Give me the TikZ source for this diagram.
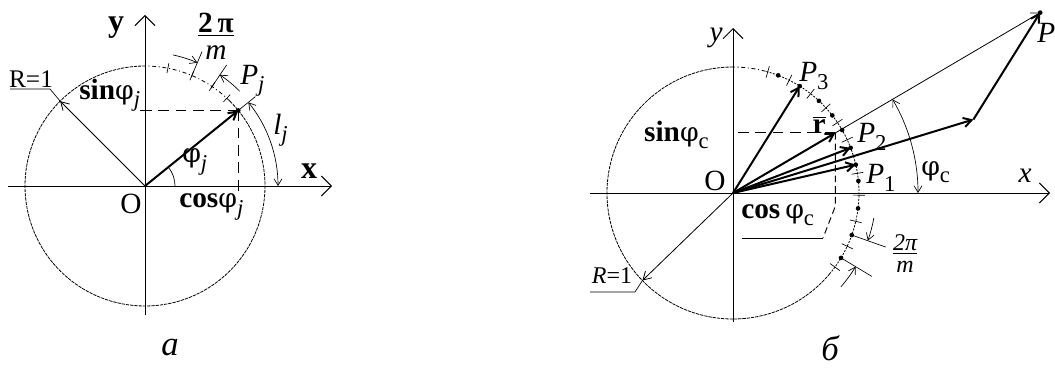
\documentclass[tikz,border=0pt]{standalone}
\usepackage{fontspec}
\setmainfont{Liberation Serif}
\newfontfamily\phifont{DejaVu Serif}
\usetikzlibrary{arrows.meta, positioning, calc}

\newcommand{\lowsub}[1]{\raisebox{-0.55ex}{\fontsize{17}{17}\selectfont #1}}
\newcommand{\fii}{{\mdseries\phifont\fontsize{20}{22}\selectfont φ}}

\begin{document}
\begin{tikzpicture}[
    x=0.75pt, y=0.75pt,
    axis/.style={line width=0.7pt, -{Straight Barb[length=7.5pt,width=15pt]}},
    vec/.style={line width=1.5pt, -{Straight Barb[length=6pt,width=7pt]}},
    thinvec/.style={line width=0.6pt, -{Straight Barb[length=6pt,width=7pt]}},
    circ/.style={line width=0.6pt, dash pattern=on 2.5pt off 0.7pt},
    dashdot/.style={line width=0.6pt, dash pattern=on 3pt off 2pt on 0.8pt off 2pt},
    guide/.style={line width=0.7pt, dash pattern=on 8pt off 5pt},
    dim/.style={line width=0.5pt, -{Straight Barb[length=5pt,width=6pt]}},
    tick/.style={line width=0.5pt},
    lbl/.style={font=\fontsize{22}{25}\selectfont, inner sep=0pt},
    caption/.style={font=\fontsize{26}{30}\selectfont\itshape, inner sep=0pt},
    dot/.style={circle, fill, inner sep=0pt, minimum size=3.5pt}
]
\useasboundingbox (0,0) rectangle (1055,378);

% ---------------- figure a ----------------
\coordinate (Oa) at (145,192);
\coordinate (Pj) at ($(Oa)+(39:120)$);
\coordinate (xa0) at (8,192);
\coordinate (xa1) at (332,192);
\coordinate (ya0) at (145,63);
\coordinate (ya1) at (145,363);

% circle R=1
\draw[circ] (Oa) ++(45:120) arc[start angle=45, end angle=-270, radius=120];
\draw[dashdot] (Oa) ++(45:120) arc[start angle=45, end angle=90, radius=120];
\foreach \a in {79,67,56,47}
    \draw[tick] ($(Oa)+(\a:115)$) -- ($(Oa)+(\a:125)$);

% axes
\draw[axis] (xa0) -- (xa1);
\draw[axis] (ya0) -- (ya1);

% projections of P_j
\draw[guide] (Pj) -- (Pj -| Oa);
\draw[guide] (Pj) -- (Pj |- Oa);
\draw[tick] ($(Pj -| Oa)+(-5,0)$) -- ($(Pj -| Oa)+(5,0)$);
\draw[tick] ($(Pj |- Oa)+(0,-5)$) -- ($(Pj |- Oa)+(0,5)$);

% radius vector
\draw[vec] (Oa) -- (Pj);
\node[dot] (pja) at (Pj) {};
\draw[line width=0.5pt] (Oa) ++(0:30) arc[start angle=0, end angle=39, radius=30];

% R=1 leader
\coordinate (Ra) at ($(Oa)+(135:120)$);
\draw[thinvec] (Oa) -- (Ra);
\coordinate (Rk) at (50,289);
\coordinate (Rl) at (10,289);
\draw[line width=0.5pt] (Ra) -- (Rk) -- (Rl);

% step 2pi/m
\foreach \a in {67,56}
    \draw[tick] ($(Oa)+(\a:118)$) -- ($(Oa)+(\a:146)$);
\draw[dim] (Oa) ++(78:134) arc[start angle=78, end angle=67, radius=134];
\draw[dim] (Oa) ++(45:134) arc[start angle=45, end angle=56, radius=134];

% arc length l_j
\draw[tick] ($(Oa)+(39:118)$) -- ($(Oa)+(39:142)$);
\draw[dim, {Straight Barb[length=5pt,width=6pt]}-{Straight Barb[length=5pt,width=6pt]}]
    (Oa) ++(39:133) arc[start angle=39, end angle=0, radius=133];

% labels
\node[lbl, font=\fontsize{24}{26}\selectfont\bfseries] (ya) at (116,350) {y};
\node[lbl, font=\fontsize{24}{26}\selectfont\bfseries] (xa) at (309,207) {x};
\node[lbl] (oa) at (131,174) {O};
\node[lbl, anchor=west] (cosa) at (179,171) {\textbf{cos\fii}\lowsub{\itshape j}};
\node[lbl, anchor=west] (sina) at (79,283) {\textbf{sin\fii}\lowsub{\itshape j}};
\node[lbl, anchor=west] (phia) at (182,216) {\textbf{\fii}\lowsub{\itshape j}};
\node[lbl, anchor=west] (pjl) at (240,297) {\itshape P\lowsub{j}};
\node[lbl, anchor=west] (lj) at (273,248) {\itshape l\lowsub{j}};
\node[lbl, font=\fontsize{19}{22}\selectfont] (ra) at (31,299) {R=1};
\node[lbl] (stepa) at (216,339) {\begin{tabular}{@{}c@{}}\textbf{2\,π}\\[-5pt]\hline\rule{0pt}{15pt}\itshape m\end{tabular}};

% ---------------- figure b ----------------
\coordinate (Ob) at (733,185);
\coordinate (P1) at ($(Ob)+(13:126)$);
\coordinate (P2) at ($(Ob)+(21:126)$);
\coordinate (P3) at ($(Ob)+(58:126)$);
\coordinate (S) at ($(P1)+(P2)-(Ob)$);
\coordinate (P) at ($(S)+(P3)-(Ob)$);
\coordinate (Rv) at ($(Ob)!{1/3}!(P)$);
\coordinate (xb0) at (590,185);
\coordinate (xb1) at (1050,185);
\coordinate (yb0) at (733,56);
\coordinate (yb1) at (733,350);

% circle R=1
\draw[circ] (Ob) ++(90:126) arc[start angle=90, end angle=320, radius=126];
\draw[dashdot] (Ob) ++(75:126) arc[start angle=75, end angle=90, radius=126];
\draw[line width=0.6pt, dash pattern=on 1.5pt off 1pt] (Ob) ++(-40:126) arc[start angle=-40, end angle=75, radius=126];
\foreach \a in {69,47,38,30,5.5,-7,-19.5,-31}
    \node[dot] at ($(Ob)+(\a:126)$) {};
\foreach \a in {74,63.5,52,42.5,34,25,17,9,-1,-13,-25,-36}
    \draw[tick] ($(Ob)+(\a:120)$) -- ($(Ob)+(\a:132)$);

% axes
\draw[axis] (xb0) -- (xb1);
\draw[axis] (yb0) -- (yb1);

% projections of r
\coordinate (cb0) at (Rv |- Ob);
\coordinate (cb1) at ($(cb0)+(0,-13)$);
\coordinate (cb2) at (823,140);
\coordinate (cb3) at (742,140);
\draw[guide] (Rv) -- (Rv -| Ob);
\draw[guide, dash pattern=on 5pt off 3pt] (Rv) -- (cb0) -- (cb1) -- (cb2);
\draw[line width=0.6pt] (cb2) -- (cb3);

% vectors
\draw[vec] (Ob) -- (P1);
\draw[vec] (Ob) -- (P2);
\draw[vec] (Ob) -- (P3);
\draw[vec] (Ob) -- (Rv);
\draw[vec] (Ob) -- (S);
\draw[vec] (S) -- (P);
\draw[thinvec] (Ob) -- (P);
\node[dot] (p1d) at (P1) {};
\node[dot] (p2d) at (P2) {};
\node[dot] (p3d) at (P3) {};
\node[dot] (pd) at (P) {};

% angle phi_c
\draw[dim, {Straight Barb[length=5pt,width=6pt]}-{Straight Barb[length=5pt,width=6pt]}]
    (Ob) ++(0:185) arc[start angle=0, end angle=30.4, radius=185];

% R=1 leader
\coordinate (Rb) at ($(Ob)+(224:126)$);
\coordinate (Rbk) at (635,86);
\coordinate (Rbl) at (590,86);
\draw[thinvec] (Ob) -- (Rb);
\draw[line width=0.5pt] (Rb) -- (Rbk) -- (Rbl);

% step 2pi/m
\foreach \a in {-19.5,-31}
    \draw[tick] ($(Ob)+(\a:126)$) -- ($(Ob)+(\a:162)$);
\draw[dim] (Ob) ++(-10:143) arc[start angle=-10, end angle=-19.5, radius=143];
\draw[dim] (Ob) ++(-41:143) arc[start angle=-41, end angle=-31, radius=143];

% labels
\node[lbl, font=\fontsize{22}{25}\selectfont\itshape] (yb) at (716,340) {y};
\node[lbl, font=\fontsize{22}{25}\selectfont\itshape] (xb) at (1025,202) {x};
\node[lbl] (ob) at (715,197) {O};
\node[lbl, anchor=east] (sinb) at (709,243) {\textbf{sin\fii}\lowsub{c}};
\node[lbl, anchor=west] (cosb) at (741,163) {\textbf{cos\,\fii}\lowsub{c}};
\node[lbl, anchor=west] (phib) at (921,206) {\textbf{\fii}\lowsub{c}};
\node[lbl] (rb) at (819,253) {$\overline{\mbox{\textbf{r}}}$};
\node[lbl, anchor=west] (p3l) at (799,302) {\itshape P\lowsub{\upshape 3}};
\node[lbl, anchor=west] (p2l) at (857,241) {\itshape P\lowsub{\upshape 2}};
\node[lbl, anchor=west] (p1l) at (866,200) {\itshape P\lowsub{\upshape 1}};
\node[lbl, anchor=west] (pl) at (1037,345) {\itshape P};
\node[lbl, font=\fontsize{18}{20}\selectfont] (rbl) at (612,102) {\itshape R\upshape =1};
\node[lbl, font=\fontsize{18}{20}\selectfont\itshape] (stepb) at (905,122) {\begin{tabular}{@{}c@{}}2π\\[-4pt]\hline\rule{0pt}{13pt}m\end{tabular}};

% captions
\node[caption] (capa) at (170,30) {a};
\node[caption] (capb) at (830,30) {б};
\end{tikzpicture}
\end{document}
